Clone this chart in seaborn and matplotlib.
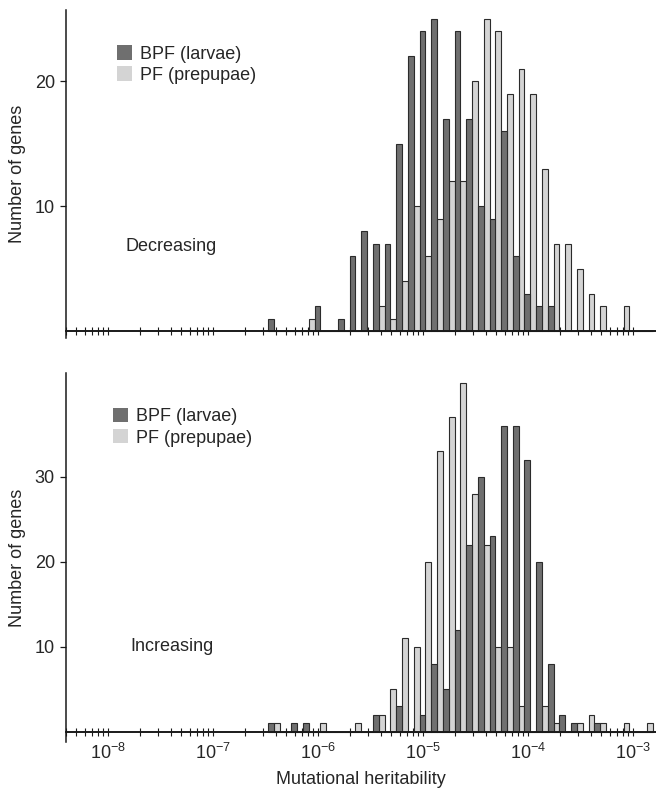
import numpy as np
import pandas as pd
import matplotlib
matplotlib.use("Agg")
import matplotlib.pyplot as plt
from matplotlib.patches import Patch
from matplotlib.ticker import LogLocator, NullFormatter
import seaborn as sns

# ---------------- data ----------------
series = ["BPF (larvae)", "PF (prepupae)"]
panels = ["Decreasing", "Increasing"]

# histogram grid (log10 of mutational heritability): 9 bins per decade
bin_start_log10 = -6.477
bins_per_decade = 9
n_bins = 33

dec_bpf = [1, 0, 0, 0, 2, 0, 1, 6, 8, 7, 7, 15, 22, 24, 25, 17, 24, 17, 10, 9,
           16, 6, 3, 2, 2, 0, 0, 0, 0, 0, 0, 0, 0]
dec_pf = [0, 0, 0, 1, 0, 0, 0, 0, 0, 2, 1, 4, 10, 6, 9, 12, 12, 20, 25, 24,
          19, 21, 19, 13, 7, 7, 5, 3, 2, 0, 2, 0, 0]
inc_bpf = [1, 0, 1, 1, 0, 0, 0, 0, 0, 2, 0, 3, 0, 2, 8, 5, 12, 22, 30, 23,
           36, 36, 32, 20, 8, 2, 1, 0, 1, 0, 0, 0, 0]
inc_pf = [1, 0, 0, 0, 1, 0, 0, 1, 0, 2, 5, 11, 10, 20, 33, 37, 41, 28, 22, 10,
          10, 3, 0, 3, 1, 0, 1, 2, 1, 0, 1, 0, 1]

edges_log10 = bin_start_log10 + np.arange(n_bins + 1) / bins_per_decade
centers = 10 ** ((edges_log10[:-1] + edges_log10[1:]) / 2)

def make_df(bpf, pf):
    return pd.DataFrame({
        "h2": np.concatenate([centers, centers]),
        "count": np.concatenate([bpf, pf]).astype(float),
        "series": [series[0]] * n_bins + [series[1]] * n_bins,
    })

data = {"Decreasing": make_df(dec_bpf, dec_pf),
        "Increasing": make_df(inc_bpf, inc_pf)}

# ---------------- style ----------------
sns.set_theme(style="white")
plt.rcParams["font.family"] = ["Liberation Sans", "DejaVu Sans"]
plt.rcParams["mathtext.fontset"] = "custom"
plt.rcParams["mathtext.rm"] = "Liberation Sans"
plt.rcParams["mathtext.it"] = "Liberation Sans:italic"
plt.rcParams["mathtext.bf"] = "Liberation Sans:bold"

palette = {series[0]: "#6f6f6f", series[1]: "#d4d4d4"}
FS = 13

fig = plt.figure(figsize=(6.56, 7.89), dpi=100)
ax_top = fig.add_axes([0.1006, 0.5716, 0.8994, 0.4157])
ax_bot = fig.add_axes([0.1006, 0.0596, 0.8994, 0.4677])

specs = [
    (ax_top, "Decreasing", (-0.56, 25.68), [10, 20], (0.0864, 0.893), (0.1017, 0.2805), False),
    (ax_bot, "Increasing", (-1.18, 42.24), [10, 20, 30], (0.0797, 0.905), (0.1085, 0.2575), True),
]

bin_list = [float(e) for e in edges_log10]

for ax, name, ylim, yticks, leg_pos, txt_pos, show_xlabels in specs:
    sns.histplot(data=data[name], x="h2", weights="count", hue="series",
                 hue_order=series, palette=palette, bins=bin_list,
                 log_scale=True, multiple="dodge", shrink=1, alpha=1,
                 edgecolor="#2b2b2b", linewidth=0.8, legend=False, ax=ax)
    ax.set_xlim(3.98e-9, 1.66e-3)
    ax.set_ylim(*ylim)
    ax.set_yticks(yticks)
    for s in ["top", "right"]:
        ax.spines[s].set_visible(False)
    ax.spines["bottom"].set_position(("data", 0))
    ax.spines["bottom"].set_linewidth(1.4)
    ax.spines["bottom"].set_color("#1a1a1a")
    ax.spines["bottom"].set_zorder(5)
    ax.spines["left"].set_linewidth(1.1)
    ax.spines["left"].set_color("#1a1a1a")
    ax.xaxis.set_major_locator(LogLocator(base=10, numticks=20))
    ax.xaxis.set_minor_locator(LogLocator(base=10, subs=np.arange(2, 10), numticks=20))
    ax.xaxis.set_minor_formatter(NullFormatter())
    ax.tick_params(axis="x", which="both", direction="inout", length=6, width=0.8,
                   color="#1a1a1a", bottom=True, labelsize=FS, pad=5)
    ax.tick_params(axis="y", direction="out", length=4, width=0.9, color="#1a1a1a",
                   left=True, labelsize=FS, pad=4)
    if not show_xlabels:
        ax.tick_params(axis="x", labelbottom=False)
        ax.set_xlabel("")
    else:
        ax.set_xlabel("Mutational heritability", fontsize=FS, labelpad=6)
    ax.set_ylabel("Number of genes", fontsize=FS, labelpad=6)
    handles = [Patch(facecolor=palette[s], edgecolor="none", label=s) for s in series]
    ax.legend(handles=handles, loc="upper left", bbox_to_anchor=leg_pos,
              frameon=False, fontsize=FS, borderpad=0, borderaxespad=0,
              handlelength=0.85, handleheight=0.85, handletextpad=0.4,
              labelspacing=0.2)
    ax.text(txt_pos[0], txt_pos[1], name, transform=ax.transAxes,
            ha="left", va="center", fontsize=FS)

fig.savefig("out.png", dpi=100)
